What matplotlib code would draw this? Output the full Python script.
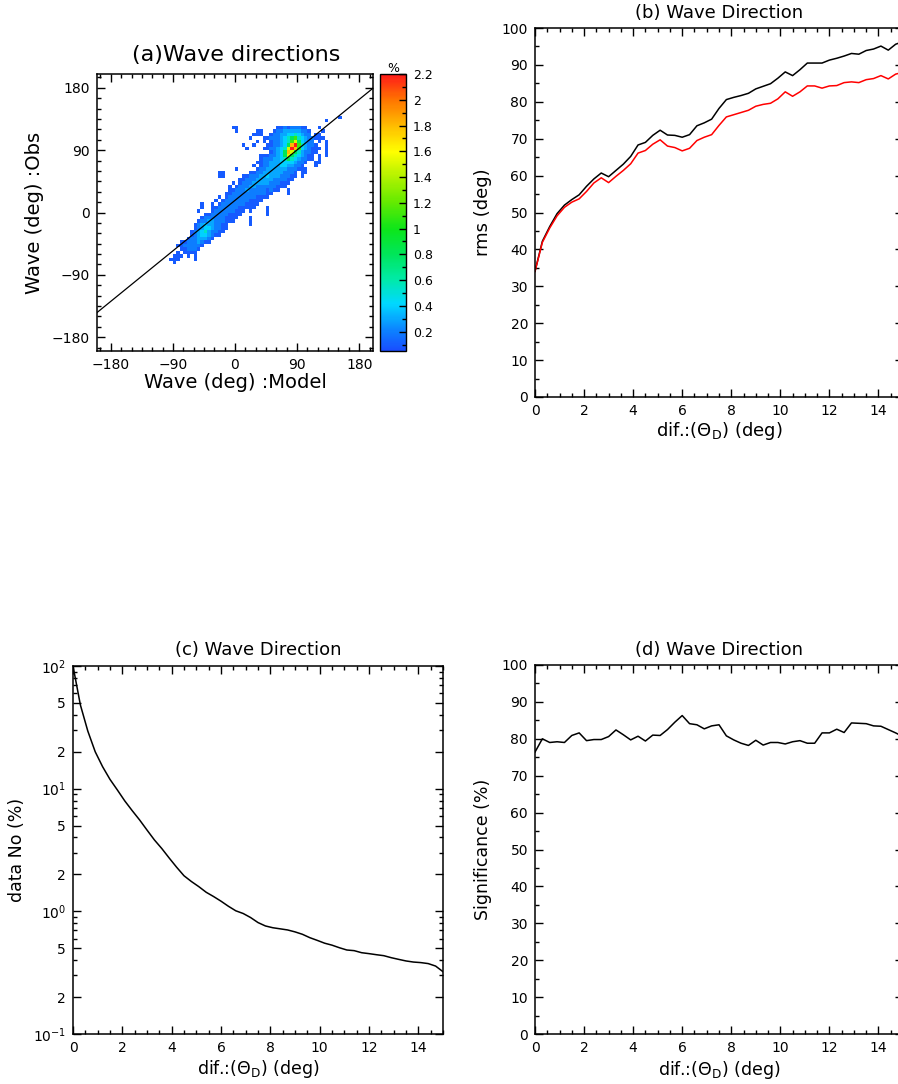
import numpy as np
import matplotlib
matplotlib.use("Agg")
import matplotlib.pyplot as plt
from matplotlib.colors import LinearSegmentedColormap
from matplotlib.ticker import MultipleLocator, FixedLocator, FuncFormatter

# ---- data ----
x_dif = np.linspace(0, 15, 51)

rms_all = [34.1, 42.2, 46.2, 49.7, 52.0, 53.5, 54.8, 57.1, 59.1, 60.7, 59.7, 61.4, 63.1,
           65.2, 68.3, 69.0, 70.9, 72.3, 71.0, 70.9, 70.4, 71.1, 73.5, 74.3, 75.3, 78.2,
           80.6, 81.2, 81.7, 82.3, 83.5, 84.2, 84.9, 86.4, 88.1, 87.1, 88.7, 90.5, 90.5,
           90.5, 91.3, 91.8, 92.4, 93.1, 92.9, 93.9, 94.3, 95.1, 94.0, 95.6, 96.3]
rms_red = [34.0, 41.9, 45.8, 49.1, 51.4, 52.8, 53.7, 55.7, 58.0, 59.4, 58.1, 59.8, 61.4,
           63.2, 66.1, 66.8, 68.5, 69.7, 68.0, 67.6, 66.7, 67.4, 69.5, 70.4, 71.1, 73.6,
           75.9, 76.5, 77.1, 77.7, 78.8, 79.3, 79.6, 80.8, 82.7, 81.5, 82.7, 84.3, 84.3,
           83.7, 84.3, 84.4, 85.2, 85.4, 85.2, 86.0, 86.3, 87.1, 86.2, 87.5, 88.0]
data_no = [100, 48.1, 29.5, 20.0, 15.1, 11.9, 9.75, 7.94, 6.62, 5.56, 4.60, 3.82, 3.25,
           2.72, 2.29, 1.95, 1.75, 1.59, 1.43, 1.32, 1.21, 1.10, 1.01, 0.96, 0.89, 0.81,
           0.76, 0.735, 0.72, 0.705, 0.68, 0.65, 0.61, 0.58, 0.55, 0.53, 0.505, 0.484,
           0.478, 0.46, 0.452, 0.443, 0.435, 0.419, 0.406, 0.394, 0.386, 0.382, 0.375,
           0.358, 0.322]
signif = [76.4, 80.0, 79.0, 79.2, 79.0, 80.9, 81.6, 79.5, 79.8, 79.8, 80.6, 82.4, 81.1,
          79.7, 80.7, 79.4, 81.0, 80.9, 82.5, 84.5, 86.3, 84.1, 83.8, 82.7, 83.5, 83.8,
          80.8, 79.7, 78.8, 78.2, 79.6, 78.3, 79.0, 79.0, 78.6, 79.2, 79.5, 78.8, 78.8,
          81.6, 81.6, 82.6, 81.7, 84.3, 84.2, 84.1, 83.5, 83.4, 82.5, 81.6, 80.6]

# fit line in panel (a)
fit_slope = 0.81
fit_intercept = 17.5

# 2-D histogram of panel (a): 5 deg bins, x from -100 to 160, y from -75 to 140
# each row: (lower y edge, first column index, level codes); '.' = empty
hist_x_edges = np.arange(-100, 165, 5)
hist_y_edges = np.arange(-75, 145, 5)
hist_rows = [
    (135, 50, "1"),
    (130, 46, "1"),
    (120, 19, "11" + "." * 11 + "112122211" + "..." + "1"),
    (115, 20, "1....." + "11" + "..." + "12233333221" + "..." + "1"),
    (110, 25, "111.." + "122334454322" + ".11"),
    (105, 24, "1..." + "112223456754322111"),
    (100, 26, "1.1." + "1223457864322" + ".1.1"),
    (95, 22, "1..1..." + "11223469b753221" + "..1"),
    (90, 23, "1...." + "11223458b97432111" + ".1"),
    (85, 30, "12346986532211" + "..1"),
    (80, 27, "1112234686543211" + ".1.1"),
    (75, 27, "1222334565432211" + ".1"),
    (70, 26, "112233344443221" + "..11"),
    (65, 25, "1." + "1223334433221" + "...1"),
    (60, 20, "1....." + "122333333222111"),
    (55, 15, "11......." + "11223333332221" + ".11"),
    (50, 15, "11....." + "1122233433322211" + ".1"),
    (45, 21, "1122233333222211"),
    (40, 19, "1." + "122233333222111"),
    (35, 18, "1." + "122233222222111"),
    (30, 18, "112223222221211" + "..1"),
    (25, 17, "11222222222211" + "....1"),
    (20, 15, "1." + "1222222221111"),
    (15, 14, "1." + "122222221111"),
    (10, 10, "1..1." + "122222221111"),
    (5, 10, "1.." + "1122222211111" + "...1"),
    (0, 9, "1..." + "1222222111" + ".1....1"),
    (-5, 11, "11222221111" + "......." + "1"),
    (-10, 10, "12222221111" + "..." + "1"),
    (-15, 9, "12233222111" + "...." + "1"),
    (-20, 8, "1234332211" + "......" + "1"),
    (-25, 8, "1234432211"),
    (-30, 7, "1234532211"),
    (-35, 7, "123443211"),
    (-40, 6, "12233321"),
    (-45, 4, "112223211"),
    (-50, 3, "11222221"),
    (-55, 4, "112221"),
    (-60, 3, "1.1111"),
    (-65, 2, "111.1.1"),
    (-70, 1, "111....1"),
    (-75, 2, "1"),
]
level_values = {'1': 0.1, '2': 0.2, '3': 0.3, '4': 0.4, '5': 0.55, '6': 0.8,
                '7': 1.1, '8': 1.5, '9': 1.8, 'a': 2.0, 'b': 2.2}

cbar_ticks = [0.2, 0.4, 0.6, 0.8, 1.0, 1.2, 1.4, 1.6, 1.8, 2.0, 2.2]

# ---- build histogram grid ----
grid = np.full((len(hist_y_edges) - 1, len(hist_x_edges) - 1), np.nan)
for y0, c0, codes in hist_rows:
    r = int((y0 - hist_y_edges[0]) // 5)
    for k, ch in enumerate(codes):
        if ch != '.':
            grid[r, c0 + k] = level_values[ch]
grid = np.ma.masked_invalid(grid)

cmap = LinearSegmentedColormap.from_list("wave", [
    (0.00, (0.10, 0.30, 1.00)),
    (0.07, (0.05, 0.50, 1.00)),
    (0.17, (0.00, 0.85, 1.00)),
    (0.26, (0.00, 0.92, 0.65)),
    (0.35, (0.00, 0.90, 0.35)),
    (0.44, (0.05, 0.90, 0.10)),
    (0.54, (0.40, 0.92, 0.00)),
    (0.63, (0.70, 0.95, 0.00)),
    (0.72, (1.00, 1.00, 0.00)),
    (0.81, (1.00, 0.75, 0.00)),
    (0.91, (1.00, 0.45, 0.00)),
    (1.00, (1.00, 0.10, 0.10)),
])

# ---- figure ----
W, H = 898, 1084
fig = plt.figure(figsize=(W / 100, H / 100), dpi=100)


def box(l, t, r, b):
    return [l / W, 1 - b / H, (r - l) / W, (b - t) / H]


def style(ax):
    ax.tick_params(which='both', direction='in', top=True, right=True, labelsize=10, width=1)
    ax.tick_params(which='major', length=6, pad=5)
    ax.tick_params(which='minor', length=3)
    for s in ax.spines.values():
        s.set_linewidth(1.1)


def labels(ax, xl, yl, xpos, ypos, fs=13):
    ax.set_xlabel(xl, fontsize=fs)
    ax.set_ylabel(yl, fontsize=fs)
    ax.xaxis.set_label_coords(0.5, xpos)
    ax.yaxis.set_label_coords(ypos, 0.5)
    ax.xaxis.label.set_va('center')
    ax.yaxis.label.set_va('center')


dif_label = r'dif.:($\Theta_{\mathrm{D}}$) (deg)'

# (a) scatter density
ax_a = fig.add_axes(box(97, 74, 373, 351))
cax = fig.add_axes(box(380, 74, 406, 351))
mesh = ax_a.pcolormesh(hist_x_edges, hist_y_edges, grid, cmap=cmap, vmin=0.05, vmax=2.2)
lx = np.array([-200, 200])
ax_a.plot(lx, fit_slope * lx + fit_intercept, color='black', lw=0.9)
ax_a.set_xlim(-200, 200)
ax_a.set_ylim(-200, 200)
ax_a.xaxis.set_major_locator(MultipleLocator(90))
ax_a.yaxis.set_major_locator(MultipleLocator(90))
ax_a.xaxis.set_minor_locator(MultipleLocator(15))
ax_a.yaxis.set_minor_locator(MultipleLocator(15))
style(ax_a)
labels(ax_a, 'Wave (deg) :Model', 'Wave (deg) :Obs', -0.115, -0.225, fs=14)
fig.text(236 / W, 1 - 55 / H, '(a)Wave directions', ha='center', va='center', fontsize=16)

cb = fig.colorbar(mesh, cax=cax, ticks=cbar_ticks)
cb.ax.yaxis.set_major_formatter(FuncFormatter(lambda v, p: '%g' % v))
cb.ax.yaxis.set_minor_locator(MultipleLocator(0.1))
cb.ax.tick_params(which='major', direction='in', length=5, width=1, labelsize=9, pad=5)
cb.ax.tick_params(which='minor', direction='in', length=3, width=1)
cb.outline.set_linewidth(1)
fig.text(393 / W, 1 - 68 / H, '%', ha='center', va='center', fontsize=9)

# (b) rms
ax_b = fig.add_axes(box(535, 28, 903, 397))
ax_b.plot(x_dif, rms_all, color='black', lw=1.1)
ax_b.plot(x_dif, rms_red, color='red', lw=1.1)
ax_b.set_xlim(0, 15)
ax_b.set_ylim(0, 100)
ax_b.xaxis.set_major_locator(MultipleLocator(2))
ax_b.xaxis.set_minor_locator(MultipleLocator(0.5))
ax_b.yaxis.set_major_locator(MultipleLocator(10))
ax_b.yaxis.set_minor_locator(MultipleLocator(5))
style(ax_b)
labels(ax_b, dif_label, 'rms (deg)', -0.092, -0.141)
fig.text(719 / W, 1 - 13 / H, '(b) Wave Direction', ha='center', va='center', fontsize=13)

# (c) data number, log scale
ax_c = fig.add_axes(box(73, 666, 443, 1034))
ax_c.plot(x_dif, data_no, color='black', lw=1.1)
ax_c.set_yscale('log')
ax_c.set_xlim(0, 15)
ax_c.set_ylim(0.1, 100)
ax_c.xaxis.set_major_locator(MultipleLocator(2))
ax_c.xaxis.set_minor_locator(MultipleLocator(0.5))
major_c = [0.1, 0.2, 0.5, 1, 2, 5, 10, 20, 50, 100]
minor_c = [m * d for d in (0.1, 1, 10) for m in (3, 4, 6, 7, 8, 9)]
ax_c.yaxis.set_major_locator(FixedLocator(major_c))
ax_c.yaxis.set_minor_locator(FixedLocator(minor_c))


def log_fmt(v, p):
    e = np.log10(v)
    if abs(e - round(e)) < 1e-6:
        return r'$10^{%d}$' % round(e)
    return '%d' % round(v / 10 ** np.floor(e))


ax_c.yaxis.set_major_formatter(FuncFormatter(log_fmt))
style(ax_c)
labels(ax_c, dif_label, 'data No (%)', -0.095, -0.15, fs=12.5)
fig.text(258 / W, 1 - 650 / H, '(c) Wave Direction', ha='center', va='center', fontsize=13)

# (d) significance
ax_d = fig.add_axes(box(535, 665, 903, 1034))
ax_d.plot(x_dif, signif, color='black', lw=1.1)
ax_d.set_xlim(0, 15)
ax_d.set_ylim(0, 100)
ax_d.xaxis.set_major_locator(MultipleLocator(2))
ax_d.xaxis.set_minor_locator(MultipleLocator(0.5))
ax_d.yaxis.set_major_locator(MultipleLocator(10))
ax_d.yaxis.set_minor_locator(MultipleLocator(5))
style(ax_d)
labels(ax_d, dif_label, 'Significance (%)', -0.097, -0.141, fs=12.5)
fig.text(719 / W, 1 - 650 / H, '(d) Wave Direction', ha='center', va='center', fontsize=13)

fig.savefig('out.png', dpi=100)
